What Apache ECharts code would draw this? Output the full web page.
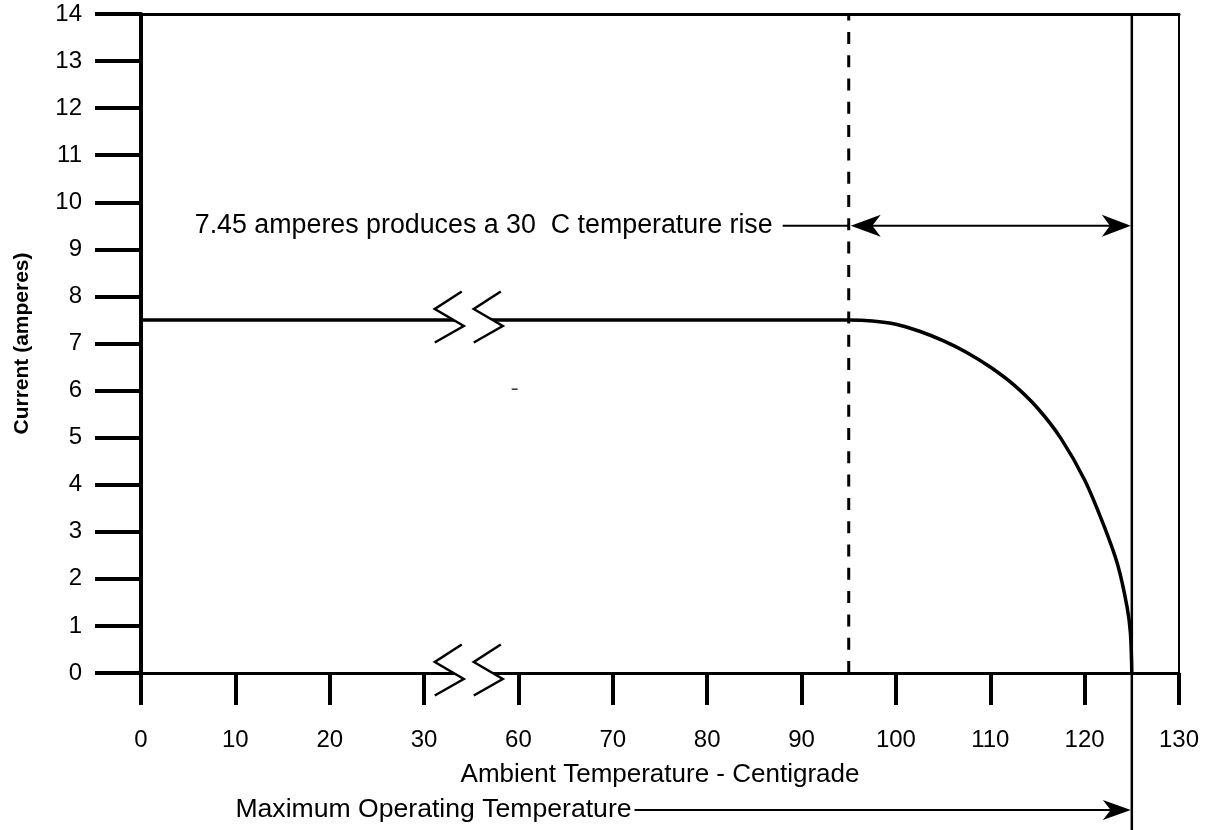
<!DOCTYPE html>
<html><head><meta charset="utf-8">
<script src="https://cdn.jsdelivr.net/npm/echarts@6/dist/echarts.min.js"></script>
<style>html,body{margin:0;padding:0;background:#fff}#c{width:1207px;height:830px}</style>
</head><body><div id="c"></div>
<script>
// ---- data ----
const xTickTemps = [0, 10, 20, 30, 60, 70, 80, 90, 100, 110, 120, 130];
const xTickLabels = ['0', '10', '20', '30', '60', '70', '80', '90', '100', '110', '120', '130'];
const yMin = 0, yMax = 14, yStep = 1;
const axisBreak = [30, 60];
const curveTemps    = [0,   30,  60,  95,  97.5, 100,  102.5, 105,  107.5, 110, 112.5, 115,  117.5, 120, 122,  123.5, 124.5, 124.85, 125];
const curveCurrents = [7.5, 7.5, 7.5, 7.5, 7.48, 7.41, 7.26,  7.06, 6.81,  6.5, 6.12,  5.63, 4.98,  4.1, 3.15, 2.3,   1.4,   0.85,   0];
const riseStartTemp = 95;
const maxTemp = 125;
const riseArrowCurrent = 9.5;
const riseTextLineTemp = 88;
const maxArrowCurrent = -2.91;
const maxArrowStartTemp = 72.3;
const strayMark = [58.8, 6.03];
const riseText = '7.45 amperes produces a 30  C temperature rise';
const maxText = 'Maximum Operating Temperature';
const xName = 'Ambient Temperature - Centigrade';
const yName = 'Current (amperes)';

// piecewise-linear position of a temperature along the broken axis (one slot per tick)
function tempToPos(t) {
  for (let i = 0; i < xTickTemps.length - 1; i++) {
    const a = xTickTemps[i], b = xTickTemps[i + 1];
    if (t <= b || i === xTickTemps.length - 2) return i + (t - a) / (b - a);
  }
}
const FONT = 'Liberation Sans';
const BLK = '#000';

function arrowHead(tip, dir, L, H) {
  const x = tip[0], y = tip[1];
  return {
    type: 'polygon',
    shape: { points: [[x, y], [x - dir * L, y - H], [x - dir * L * 0.72, y], [x - dir * L, y + H]] },
    style: { fill: BLK, stroke: null }
  };
}

const chart = echarts.init(document.getElementById('c'), null, { renderer: 'canvas' });
const breakPos = tempToPos((axisBreak[0] + axisBreak[1]) / 2);

chart.setOption({
  animation: false,
  backgroundColor: '#fff',
  grid: { left: 141, right: 28, top: 14, bottom: 157 },
  xAxis: [{
    type: 'value', min: 0, max: xTickTemps.length - 1, interval: 1, position: 'bottom',
    axisLine: { show: true, onZero: false, lineStyle: { color: BLK, width: 3 } },
    axisTick: { show: true, inside: false, length: 32, lineStyle: { color: BLK, width: 4 } },
    axisLabel: { formatter: v => xTickLabels[Math.round(v)] ?? '', margin: 55, fontSize: 24, color: BLK, fontFamily: FONT },
    splitLine: { show: false },
    name: xName, nameLocation: 'middle', nameGap: 89,
    nameTextStyle: { fontSize: 26, color: BLK, fontFamily: FONT }
  }, {
    type: 'value', min: 0, max: xTickTemps.length - 1, position: 'top',
    axisLine: { show: true, onZero: false, lineStyle: { color: BLK, width: 3 } },
    axisTick: { show: false }, axisLabel: { show: false }, splitLine: { show: false }
  }],
  yAxis: [{
    type: 'value', min: yMin, max: yMax, interval: yStep, position: 'left',
    axisLine: { show: true, onZero: false, lineStyle: { color: BLK, width: 4 } },
    axisTick: { show: true, inside: false, length: 46, lineStyle: { color: BLK, width: 4 } },
    axisLabel: { margin: 59, fontSize: 24, color: BLK, fontFamily: FONT },
    splitLine: { show: false },
    name: yName, nameLocation: 'middle', nameGap: 108,
    nameTextStyle: { fontSize: 21, fontWeight: 'bold', color: BLK, fontFamily: FONT }
  }, {
    type: 'value', min: yMin, max: yMax, position: 'right',
    axisLine: { show: true, onZero: false, lineStyle: { color: BLK, width: 2 } },
    axisTick: { show: false }, axisLabel: { show: false }, splitLine: { show: false }
  }],
  series: [{
    type: 'line', name: 'Current',
    data: curveTemps.map((t, i) => [tempToPos(t), curveCurrents[i]]),
    smooth: 0.3, symbol: 'none',
    lineStyle: { color: BLK, width: 3.5 }, z: 3
  }, {
    type: 'custom', name: 'breaks', clip: false, z: 10,
    data: [[breakPos, curveCurrents[0]], [breakPos, yMin]],
    renderItem: (params, api) => {
      const c = api.coord([api.value(0), api.value(1)]);
      const dx = [-9.5, -36.5, -7.5, -36.5], dy = [-28.5, -11, 6, 22.5], w = 39;
      const left = dx.map((d, i) => [c[0] + d, c[1] + dy[i]]);
      const right = dx.map((d, i) => [c[0] + d + w, c[1] + dy[i]]);
      return {
        type: 'group', children: [
          { type: 'polygon', shape: { points: left.concat(right.slice().reverse()) }, style: { fill: '#fff', stroke: null } },
          { type: 'polyline', shape: { points: left }, style: { stroke: BLK, lineWidth: 2.5, fill: null } },
          { type: 'polyline', shape: { points: right }, style: { stroke: BLK, lineWidth: 2.5, fill: null } }
        ]
      };
    }
  }, {
    type: 'custom', name: 'annotations', clip: false, z: 8,
    data: [[tempToPos(riseStartTemp), riseArrowCurrent]],
    renderItem: (params, api) => {
      const xr = tempToPos(riseStartTemp), xm = tempToPos(maxTemp);
      const d0 = api.coord([xr, yMin]), d1 = api.coord([xr, yMax]);
      const m1 = api.coord([xm, yMax]);
      const H = api.getHeight();
      const aL = api.coord([xr, riseArrowCurrent]), aR = api.coord([xm, riseArrowCurrent]);
      const tl = api.coord([tempToPos(riseTextLineTemp), riseArrowCurrent]);
      const bS = api.coord([tempToPos(maxArrowStartTemp), maxArrowCurrent]);
      const bE = api.coord([xm, maxArrowCurrent]);
      const sm = api.coord([tempToPos(strayMark[0]), strayMark[1]]);
      return {
        type: 'group', children: [
          { type: 'line', shape: { x1: d0[0], y1: d0[1], x2: d1[0], y2: d1[1] },
            style: { stroke: BLK, lineWidth: 3, lineDash: [12, 11.3] } },
          { type: 'line', shape: { x1: m1[0], y1: m1[1], x2: m1[0], y2: H },
            style: { stroke: BLK, lineWidth: 2.5 } },
          { type: 'line', shape: { x1: aL[0] + 10, y1: aL[1], x2: aR[0] - 10, y2: aR[1] },
            style: { stroke: BLK, lineWidth: 2 } },
          arrowHead([aL[0] + 2, aL[1]], -1, 30, 11),
          arrowHead([aR[0] - 1, aR[1]], 1, 29, 11),
          { type: 'line', shape: { x1: tl[0], y1: tl[1], x2: aL[0], y2: aL[1] },
            style: { stroke: BLK, lineWidth: 2 } },
          { type: 'text', x: tl[0] - 10, y: tl[1],
            style: { text: riseText, fill: BLK, font: '26.8px "' + FONT + '"', align: 'right', verticalAlign: 'middle' } },
          { type: 'line', shape: { x1: bS[0], y1: bS[1], x2: bE[0] - 10, y2: bE[1] },
            style: { stroke: BLK, lineWidth: 2 } },
          arrowHead([bE[0] - 1, bE[1]], 1, 28, 10),
          { type: 'text', x: bS[0] - 3, y: bS[1],
            style: { text: maxText, fill: BLK, font: '26.6px "' + FONT + '"', align: 'right', verticalAlign: 'middle' } },
          { type: 'line', shape: { x1: sm[0] - 3, y1: sm[1], x2: sm[0] + 3, y2: sm[1] },
            style: { stroke: BLK, lineWidth: 1.2 } }
        ]
      };
    }
  }]
});
</script>
</body></html>
